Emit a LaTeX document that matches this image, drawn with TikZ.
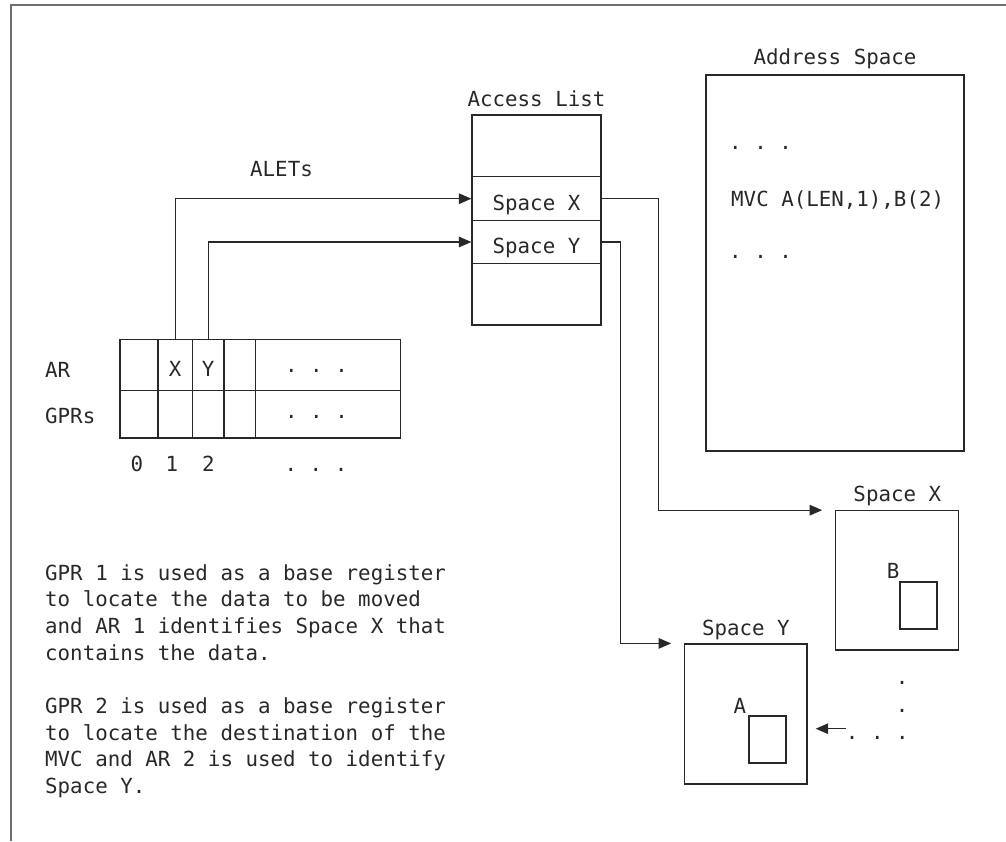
\documentclass[tikz,border=0pt]{standalone}
\usepackage{fontspec}
\setmonofont{DejaVu Sans Mono}
\usetikzlibrary{arrows.meta, positioning}
\definecolor{inkgray}{RGB}{40,40,40}
\definecolor{framegray}{RGB}{110,110,110}

\begin{document}
\begin{tikzpicture}[x=1pt, y=-1pt,
    every node/.style={font=\ttfamily\fontsize{20.8}{26.7}\selectfont, text=inkgray},
    box/.style={rectangle, draw=inkgray, line width=1.2pt, inner sep=0pt},
    cell/.style={box, text height=23pt, text depth=0pt},
    lbl/.style={inner sep=0pt, text depth=0pt},
    txt/.style={anchor=base west, inner sep=0pt},
    txtc/.style={anchor=base, inner sep=0pt},
    para/.style={anchor=base west, inner sep=0pt, align=left},
    arrow/.style={draw=inkgray, line width=1.2pt, -{Triangle[length=12.5pt,width=10.5pt]}},
    label distance=8pt
]
\useasboundingbox (0,0) rectangle (1006,841);
\draw[framegray, line width=1.5pt] (1006,5) -- (11,5) -- (11,841);
% registers
\node[cell, minimum width=38pt, minimum height=51pt] (ar0) at (139,364.8) {};
\node[cell, minimum width=34.3pt, minimum height=51pt] (ar1) at (175.15,364.8) {X};
\node[cell, minimum width=31.7pt, minimum height=51pt] (ar2) at (208.15,364.8) {Y};
\node[cell, minimum width=31.3pt, minimum height=51pt] (ar3) at (239.65,364.8) {};
\node[cell, minimum width=145.4pt, minimum height=51pt] (ar4) at (328,364.8) {};
\node[cell, minimum width=38pt, minimum height=47.7pt] (gpr0) at (139,414.15) {};
\node[cell, minimum width=34.3pt, minimum height=47.7pt] (gpr1) at (175.15,414.15) {};
\node[cell, minimum width=31.7pt, minimum height=47.7pt] (gpr2) at (208.15,414.15) {};
\node[cell, minimum width=31.3pt, minimum height=47.7pt] (gpr3) at (239.65,414.15) {};
\node[cell, minimum width=145.4pt, minimum height=47.7pt] (gpr4) at (328,414.15) {};
\node[txt] (arlbl) at (45,377.5) {AR};
\node[txt] (gprlbl) at (45,423.3) {GPRs};
\node[txtc] (ardots) at (316.5,372) {. . .};
\node[txtc] (gprdots) at (316.5,418) {. . .};
\node[txtc] (idx0) at (137,471.7) {0};
\node[txtc] (idx1) at (172,471.7) {1};
\node[txtc] (idx2) at (208.3,471.7) {2};
\node[txtc] (idxdots) at (316,471.3) {. . .};
% access list
\node[box, minimum width=129pt, minimum height=210pt, label={[lbl]above:Access List}] (acclist) at (536.5,220) {};
\node[cell, minimum width=129pt, minimum height=44pt] (slotx) at (536.5,198.7) {Space X};
\node[cell, minimum width=129pt, minimum height=42.6pt] (sloty) at (536.5,242) {Space Y};
\node[txt] (alets) at (250,176.7) {ALETs};
% address space
\node[box, minimum width=258pt, minimum height=376pt, label={[lbl, label distance=10pt]above:Address Space}] (addr) at (835,263) {};
\node[txt] (adots1) at (729,149.5) {. . .};
\node[txt] (mvc) at (731,206.7) {MVC A(LEN,1),B(2)};
\node[txt] (adots2) at (729,258.5) {. . .};
% spaces
\node[box, minimum width=123pt, minimum height=139.3pt, label={[lbl]above:Space X}] (spacex) at (897.3,580.4) {};
\node[box, minimum width=37pt, minimum height=47pt] (datab) at (918.5,605.5) {};
\node[txtc] (lblb) at (893,578.3) {B};
\node[box, minimum width=122.3pt, minimum height=140pt, label={[lbl]above:Space Y}] (spacey) at (745.9,714) {};
\node[box, minimum width=37pt, minimum height=47pt] (dataa) at (767.5,739.5) {};
\node[txtc] (lbla) at (740,713.3) {A};
\node[txt] (moredots) at (845.75,739) {. . .};
\node[txtc] (vdot1) at (902,684.3) {.};
\node[txtc] (vdot2) at (902,712) {.};
\coordinate (dotsend) at (845.7,728.7);
% notes
\node[para] (note1) at (45,660.1) {GPR 1 is used as a base register\\to locate the data to be moved\\and AR 1 identifies Space X that\\contains the data.};
\node[para] (note2) at (45,793.4) {GPR 2 is used as a base register\\to locate the destination of the\\MVC and AR 2 is used to identify\\Space Y.};
% connectors
\draw[arrow] (ar1.north) |- (slotx.west);
\draw[arrow] (ar2.north) |- (sloty.west);
\draw[arrow] (slotx.east) -- ++(57,0) |- ([xshift=-13pt]spacex.north west);
\draw[arrow] (sloty.east) -- ++(19,0) |- ([xshift=-13pt]spacey.north west);
\draw[arrow, shorten >=8pt] (dotsend) -- (dotsend -| spacey.east);
\end{tikzpicture}
\end{document}
